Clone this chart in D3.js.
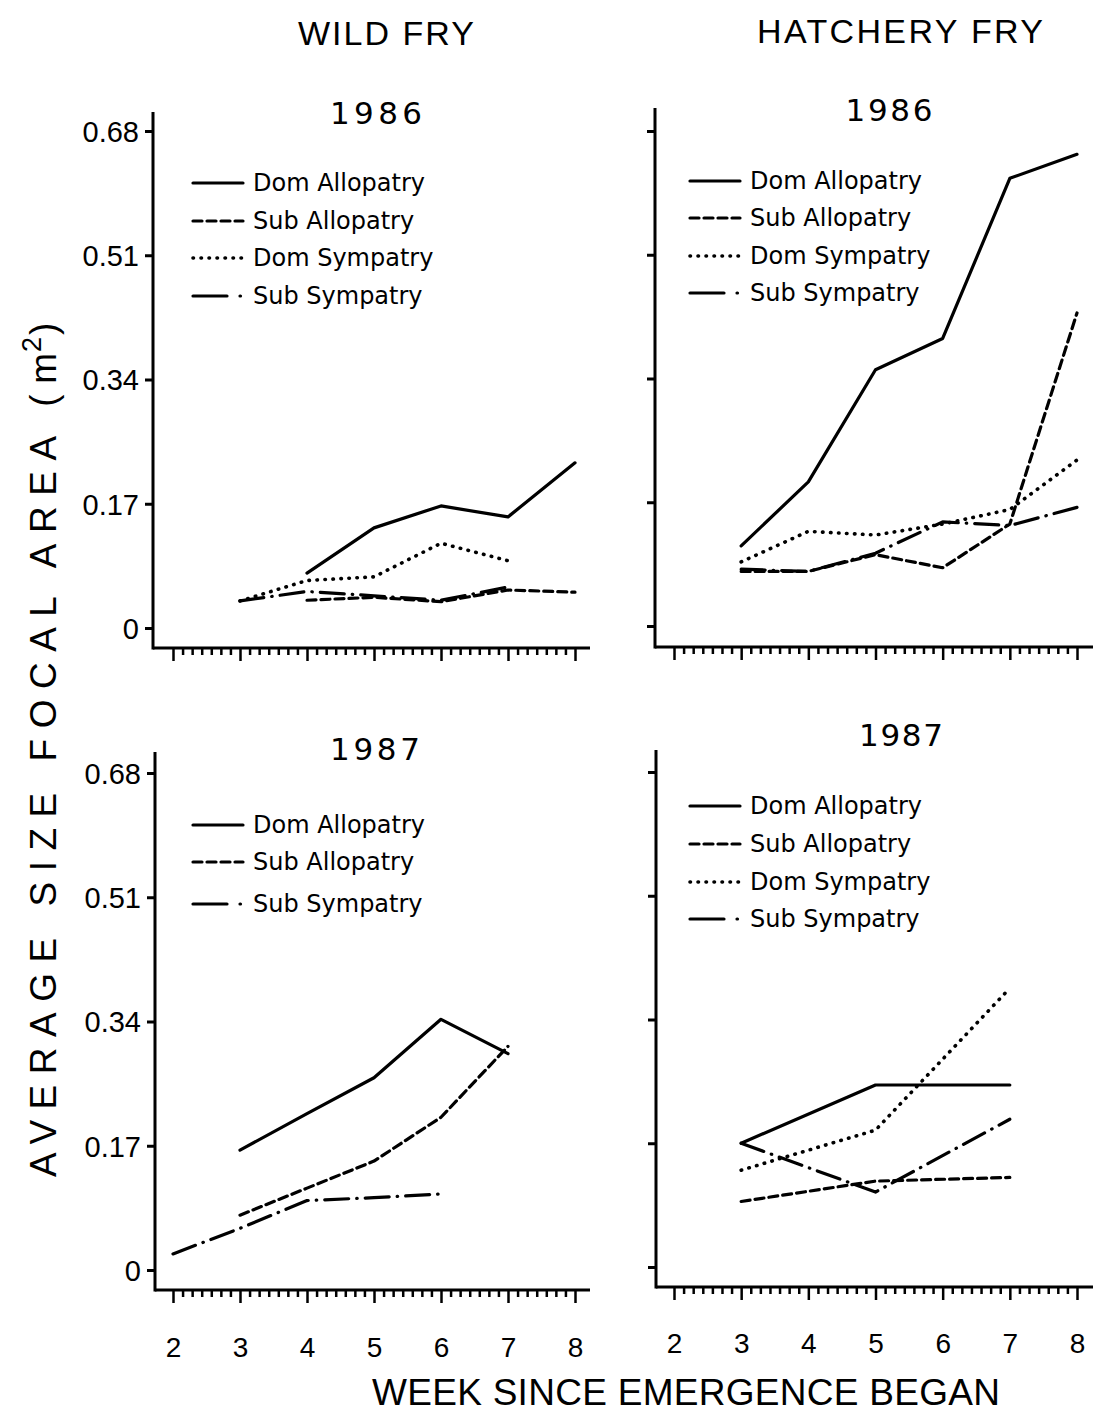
<!DOCTYPE html>
<html><head><meta charset="utf-8">
<script src="https://cdn.jsdelivr.net/npm/d3@7"></script>
<style>
body{margin:0;background:#fff;}
svg{display:block;}
text{fill:#000;}
</style></head>
<body>
<svg id="c" width="1093" height="1415"></svg>
<script>
// ---- data ----
const weekTicks = [2,3,4,5,6,7,8];
const yTickValues = [0,0.17,0.34,0.51,0.68];
const yTickLabels = ["0","0.17","0.34","0.51","0.68"];
const seriesNames = ["Dom Allopatry","Sub Allopatry","Dom Sympatry","Sub Sympatry"];

// Wild fry 1986
const wild86Weeks_DomAllo = [4,5,6,7,8];
const wild86_DomAllo      = [0.075,0.137,0.167,0.152,0.226];
const wild86Weeks_SubAllo = [4,5,6,7,8];
const wild86_SubAllo      = [0.038,0.042,0.036,0.052,0.049];
const wild86Weeks_DomSym  = [3,4,5,6,7];
const wild86_DomSym       = [0.037,0.065,0.070,0.116,0.092];
const wild86Weeks_SubSym  = [3,4,5,6,7];
const wild86_SubSym       = [0.037,0.050,0.044,0.038,0.056];

// Hatchery fry 1986
const hat86Weeks = [3,4,5,6,7,8];
const hat86_DomAllo = [0.110,0.198,0.352,0.395,0.615,0.648];
const hat86_SubAllo = [0.075,0.075,0.098,0.080,0.140,0.430];
const hat86_DomSym  = [0.088,0.130,0.125,0.140,0.160,0.228];
const hat86_SubSym  = [0.078,0.075,0.100,0.143,0.138,0.163];

// Wild fry 1987
const wild87Weeks_DomAllo = [3,4,5,6,7];
const wild87_DomAllo      = [0.164,0.214,0.263,0.343,0.296];
const wild87Weeks_SubAllo = [3,4,5,6,7];
const wild87_SubAllo      = [0.075,0.112,0.149,0.209,0.306];
const wild87Weeks_SubSym  = [2,3,4,5,6];
const wild87_SubSym       = [0.022,0.057,0.095,0.099,0.104];

// Hatchery fry 1987
const hat87Weeks = [3,5,7];
const hat87_DomAllo = [0.170,0.250,0.250];
const hat87_SubAllo = [0.090,0.118,0.123];
const hat87_DomSym  = [0.133,0.188,0.383];
const hat87_SubSym  = [0.170,0.103,0.203];

// ---- styles ----
const dashStyles = {
  "Dom Allopatry": null,
  "Sub Allopatry": "9,5",
  "Dom Sympatry": "0.5,7.5",
  "Sub Sympatry": "24,8,0.5,8"
};

const panels = [
  {title:"1986", titleX:376, titleY:124, titleW:92,
   axisX:153, axisTop:112, axisY:648, axisRight:590,
   xr:[173,575], yr:[628,131], yLabels:true, xLabels:false, xLabY:0,
   legX:193, legY:[183,221,258,296],
   legend:["Dom Allopatry","Sub Allopatry","Dom Sympatry","Sub Sympatry"],
   series:[
     {name:"Dom Allopatry", w:wild86Weeks_DomAllo, v:wild86_DomAllo},
     {name:"Sub Allopatry", w:wild86Weeks_SubAllo, v:wild86_SubAllo},
     {name:"Dom Sympatry",  w:wild86Weeks_DomSym,  v:wild86_DomSym},
     {name:"Sub Sympatry",  w:wild86Weeks_SubSym,  v:wild86_SubSym}]},
  {title:"1986", titleX:889, titleY:121, titleW:87,
   axisX:655, axisTop:108, axisY:647, axisRight:1093,
   xr:[674,1077], yr:[626,131], yLabels:false, xLabels:false, xLabY:0,
   legX:690, legY:[181,218,256,293],
   legend:["Dom Allopatry","Sub Allopatry","Dom Sympatry","Sub Sympatry"],
   series:[
     {name:"Dom Allopatry", w:hat86Weeks, v:hat86_DomAllo},
     {name:"Sub Allopatry", w:hat86Weeks, v:hat86_SubAllo},
     {name:"Dom Sympatry",  w:hat86Weeks, v:hat86_DomSym},
     {name:"Sub Sympatry",  w:hat86Weeks, v:hat86_SubSym}]},
  {title:"1987", titleX:375, titleY:760, titleW:90,
   axisX:155, axisTop:752, axisY:1290, axisRight:590,
   xr:[173,575], yr:[1270,773], yLabels:true, xLabels:true, xLabY:67,
   legX:193, legY:[825,862,904],
   legend:["Dom Allopatry","Sub Allopatry","Sub Sympatry"],
   series:[
     {name:"Dom Allopatry", w:wild87Weeks_DomAllo, v:wild87_DomAllo},
     {name:"Sub Allopatry", w:wild87Weeks_SubAllo, v:wild87_SubAllo},
     {name:"Sub Sympatry",  w:wild87Weeks_SubSym,  v:wild87_SubSym}]},
  {title:"1987", titleX:901, titleY:746, titleW:84,
   axisX:656, axisTop:750, axisY:1287, axisRight:1093,
   xr:[674,1077], yr:[1267,772], yLabels:false, xLabels:true, xLabY:66,
   legX:690, legY:[806,844,882,919],
   legend:["Dom Allopatry","Sub Allopatry","Dom Sympatry","Sub Sympatry"],
   series:[
     {name:"Dom Allopatry", w:hat87Weeks, v:hat87_DomAllo},
     {name:"Sub Allopatry", w:hat87Weeks, v:hat87_SubAllo},
     {name:"Dom Sympatry",  w:hat87Weeks, v:hat87_DomSym},
     {name:"Sub Sympatry",  w:hat87Weeks, v:hat87_SubSym}]}
];

const svg = d3.select("#c");
const FONT = "'Liberation Sans', Arial, sans-serif";
const LFONT = "'DejaVu Sans', sans-serif";

// Column headers
svg.append("text").attr("x",386).attr("y",45).attr("text-anchor","middle")
  .attr("font-family",FONT).attr("font-size",34)
  .attr("textLength",176).attr("lengthAdjust","spacing").text("WILD FRY");
svg.append("text").attr("x",900).attr("y",43).attr("text-anchor","middle")
  .attr("font-family",FONT).attr("font-size",34)
  .attr("textLength",286).attr("lengthAdjust","spacing").text("HATCHERY FRY");

// Y axis title (rotated): runs from y=1177 up to y~320
const ytg = svg.append("g").attr("transform","translate(56,0) rotate(-90)");
ytg.append("text").attr("x",-1177).attr("y",0).attr("text-anchor","start")
  .attr("font-family",FONT).attr("font-size",37)
  .attr("textLength",824).attr("lengthAdjust","spacing")
  .text("AVERAGE SIZE FOCAL AREA (m");
ytg.append("text").attr("x",-352).attr("y",-15).attr("text-anchor","start")
  .attr("font-family",FONT).attr("font-size",27).text("2");
ytg.append("text").attr("x",-335).attr("y",0).attr("text-anchor","start")
  .attr("font-family",FONT).attr("font-size",37).text(")");

svg.append("text").attr("x",686).attr("y",1405).attr("text-anchor","middle")
  .attr("font-family",FONT).attr("font-size",37)
  .attr("textLength",628).attr("lengthAdjust","spacing").text("WEEK SINCE EMERGENCE BEGAN");

// minor tick values (days)
const minorTicks = d3.range(2*7, 8*7+1).map(d=>d/7).filter(d=>Math.abs(d-Math.round(d))>1e-6);

panels.forEach(p=>{
  const x = d3.scaleLinear().domain([2,8]).range(p.xr);
  const y = d3.scaleLinear().domain([0,0.68]).range(p.yr);
  const g = svg.append("g");

  // title
  g.append("text").attr("x",p.titleX).attr("y",p.titleY).attr("text-anchor","middle")
    .attr("font-family",LFONT).attr("font-size",31)
    .attr("textLength",p.titleW).attr("lengthAdjust","spacing").text(p.title);

  // axis lines
  g.append("line").attr("x1",p.axisX).attr("x2",p.axisX).attr("y1",p.axisTop).attr("y2",p.axisY+1.5)
    .attr("stroke","#000").attr("stroke-width",3);
  g.append("line").attr("x1",p.axisX).attr("x2",p.axisRight).attr("y1",p.axisY).attr("y2",p.axisY)
    .attr("stroke","#000").attr("stroke-width",3);

  // x axis ticks
  const xMinor = g.append("g").attr("transform",`translate(0,${p.axisY})`)
    .call(d3.axisBottom(x).tickValues(minorTicks).tickSize(7).tickFormat(""));
  const xMajor = g.append("g").attr("transform",`translate(0,${p.axisY})`)
    .call(d3.axisBottom(x).tickValues(weekTicks).tickSize(13)
      .tickFormat(p.xLabels ? d3.format("d") : ""));
  [xMinor,xMajor].forEach(a=>{
    a.select(".domain").remove();
    a.selectAll("line").attr("stroke","#000").attr("stroke-width",2.5);
  });
  xMajor.selectAll("text").attr("font-family",FONT).attr("font-size",28)
    .attr("fill","#000").attr("dy",0).attr("y",p.xLabY);

  // y axis ticks
  const yAx = g.append("g").attr("transform",`translate(${p.axisX},0)`)
    .call(d3.axisLeft(y).tickValues(yTickValues).tickSize(8)
      .tickFormat((d,i)=> p.yLabels ? yTickLabels[i] : ""));
  yAx.select(".domain").remove();
  yAx.selectAll("line").attr("stroke","#000").attr("stroke-width",3);
  yAx.selectAll("text").attr("font-family",FONT).attr("font-size",29)
    .attr("fill","#000").attr("x",-14).attr("dy","0.36em");

  // series lines
  const line = d3.line().x(d=>x(d[0])).y(d=>y(d[1]));
  p.series.forEach(s=>{
    const pts = s.w.map((w,i)=>[w,s.v[i]]);
    const path = g.append("path").datum(pts).attr("d",line)
      .attr("fill","none").attr("stroke","#000")
      .attr("stroke-width", s.name==="Dom Sympatry" ? 3.6 : 3.2)
      .attr("stroke-linecap","round").attr("stroke-linejoin","round");
    if (dashStyles[s.name]) path.attr("stroke-dasharray",dashStyles[s.name]);
  });

  // legend
  p.legend.forEach((name,i)=>{
    const ly = p.legY[i];
    const ls = g.append("line").attr("x1",p.legX).attr("x2",p.legX+50)
      .attr("y1",ly).attr("y2",ly).attr("stroke","#000")
      .attr("stroke-width", name==="Dom Sympatry" ? 3.6 : 3.2)
      .attr("stroke-linecap","round");
    if (name==="Sub Sympatry") ls.attr("stroke-dasharray","34,13,0.5,20");
    else if (dashStyles[name]) ls.attr("stroke-dasharray",dashStyles[name]);
    g.append("text").attr("x",p.legX+60).attr("y",ly+8)
      .attr("font-family",LFONT).attr("font-size",24).text(name);
  });
});
</script>
</body></html>
